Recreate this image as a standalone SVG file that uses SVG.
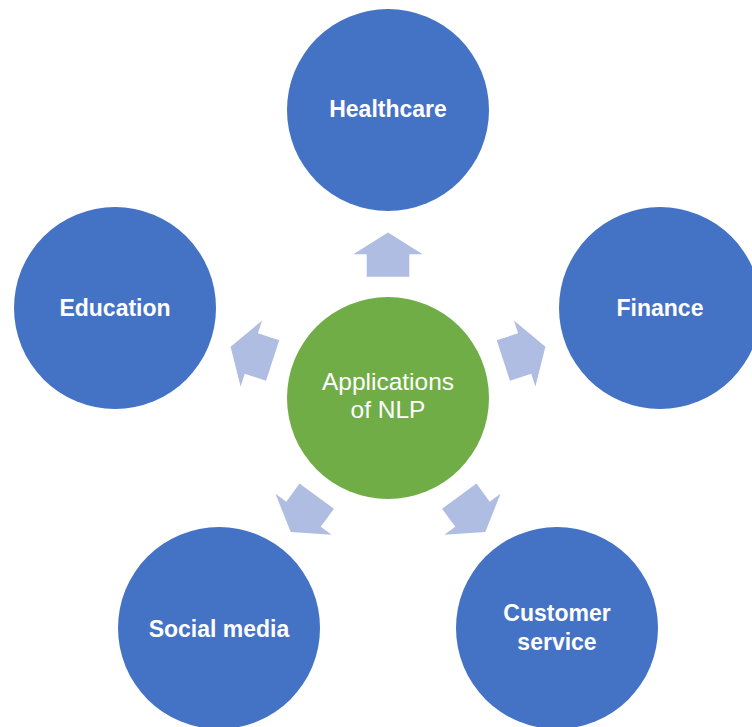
<svg xmlns="http://www.w3.org/2000/svg" width="752" height="727" viewBox="0 0 752 727">
<defs>
<style>
.outer{fill:#4472C4}
.center{fill:#70AD47}
.arrow{fill:#AEBDE1}
.lbl{font-family:"Liberation Sans",Arial,sans-serif;font-weight:bold;font-size:23px;fill:#fff;text-anchor:middle}
.clbl{font-family:"Liberation Sans",Arial,sans-serif;font-size:24.5px;fill:#fff;text-anchor:middle}
</style>
<polygon id="arr" points="0,-165.5 34.7,-143.7 21.3,-143.7 21.3,-121.3 -21.3,-121.3 -21.3,-143.7 -34.7,-143.7"/>
</defs>
<rect width="752" height="727" fill="#fff"/>
<g id="connectors" transform="translate(388,398)">
<use href="#arr" class="arrow"/>
<use href="#arr" class="arrow" transform="rotate(72)"/>
<use href="#arr" class="arrow" transform="rotate(144)"/>
<use href="#arr" class="arrow" transform="rotate(216)"/>
<use href="#arr" class="arrow" transform="rotate(288)"/>
</g>
<g id="center">
<circle class="center" cx="388" cy="398" r="101"/>
<text class="clbl" x="388" y="390">Applications</text>
<text class="clbl" x="388" y="418">of NLP</text>
</g>
<g id="healthcare">
<circle class="outer" cx="388" cy="110" r="101"/>
<text class="lbl" x="388" y="117">Healthcare</text>
</g>
<g id="finance">
<circle class="outer" cx="660" cy="308" r="101"/>
<text class="lbl" x="660" y="316">Finance</text>
</g>
<g id="customer-service">
<circle class="outer" cx="557" cy="628" r="101"/>
<text class="lbl" x="557" y="621">Customer</text>
<text class="lbl" x="557" y="650">service</text>
</g>
<g id="social-media">
<circle class="outer" cx="219" cy="628" r="101"/>
<text class="lbl" x="219" y="637">Social media</text>
</g>
<g id="education">
<circle class="outer" cx="115" cy="308" r="101"/>
<text class="lbl" x="115" y="316">Education</text>
</g>
</svg>
